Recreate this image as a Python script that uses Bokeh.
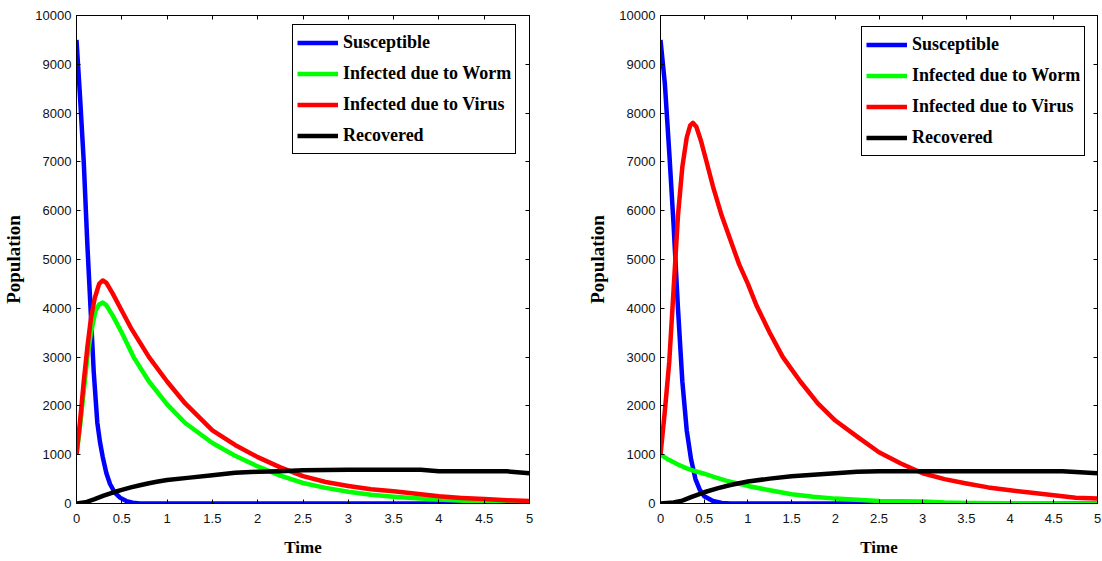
from bokeh.plotting import figure
from bokeh.layouts import row
from bokeh.models import Range1d, LinearAxis, FixedTicker, CustomJSTickFormatter
from bokeh.embed import file_html
from bokeh.resources import INLINE

# ---------------- data ----------------
x_ticks = [0, 0.5, 1, 1.5, 2, 2.5, 3, 3.5, 4, 4.5, 5]
x_tick_labels = ["0", "0.5", "1", "1.5", "2", "2.5", "3", "3.5", "4", "4.5", "5"]
y_ticks = [0, 1000, 2000, 3000, 4000, 5000, 6000, 7000, 8000, 9000, 10000]
series_names = ["Susceptible", "Infected due to Worm", "Infected due to Virus", "Recovered"]
series_colors = ["#0000ff", "#00ff00", "#ff0000", "#000000"]

# left panel
t_S_left = [0, 0.04, 0.08, 0.12, 0.155, 0.19, 0.23, 0.26, 0.29, 0.33, 0.37, 0.42, 0.48, 0.55, 0.62, 0.7, 1.0, 2, 3, 4, 5]
S_left = [9500, 8300, 7000, 5300, 4000, 2700, 1650, 1250, 950, 620, 400, 230, 120, 50, 15, 0, 0, 0, 0, 0, 0]
t_W_left = [0, 0.04, 0.08, 0.12, 0.16, 0.21, 0.25, 0.29, 0.33, 0.4, 0.5, 0.63, 0.8, 1.0, 1.2, 1.5,
            1.75, 2.0, 2.25, 2.5, 2.75, 3.0, 3.25, 3.5, 3.75, 4.0, 4.5, 5.0]
W_left = [1000, 1600, 2300, 3000, 3500, 3950, 4080, 4120, 4060, 3850, 3500, 3000, 2500, 2030, 1650, 1240,
          980, 760, 570, 420, 320, 240, 180, 140, 110, 80, 35, 5]
t_V_left = [0, 0.04, 0.08, 0.12, 0.16, 0.2, 0.25, 0.29, 0.33, 0.4, 0.5, 0.6, 0.8, 1.0, 1.2, 1.5, 1.75,
            2.0, 2.25, 2.5, 2.75, 3.0, 3.25, 3.5, 3.75, 4.0, 4.25, 4.5, 4.75, 5.0]
V_left = [1000, 1700, 2500, 3200, 3800, 4200, 4500, 4570, 4520, 4300, 3950, 3600, 3000, 2500, 2050, 1500, 1200,
          950, 740, 560, 440, 360, 290, 250, 200, 150, 115, 90, 65, 50]
t_R_left = [0, 0.1, 0.2, 0.3, 0.4, 0.5, 0.6, 0.7, 0.8, 0.9, 1.0, 1.25, 1.5, 1.75, 2.0, 2.25, 2.5, 3.0,
            3.5, 3.8, 4.0, 4.5, 4.75, 5.0]
R_left = [0, 25, 90, 160, 225, 280, 330, 375, 415, 450, 480, 530, 580, 630, 650, 660, 680, 690,
          690, 690, 660, 660, 660, 620]

# right panel
t_S_right = [0, 0.05, 0.1, 0.15, 0.2, 0.25, 0.3, 0.35, 0.4, 0.45, 0.5, 0.6, 0.7, 0.8, 5.0]
S_right = [9500, 8600, 7200, 5700, 4000, 2500, 1500, 900, 500, 280, 150, 50, 10, 0, 0]
t_W_right = [0, 0.1, 0.2, 0.3, 0.4, 0.5, 0.6, 0.75, 1.0, 1.25, 1.5, 1.75, 2.0, 2.25, 2.5, 3.0, 3.25,
             3.5, 4.0, 5.0]
W_right = [1000, 890, 800, 720, 660, 610, 550, 470, 360, 270, 190, 140, 100, 75, 50, 40, 20,
           10, 5, 0]
t_V_right = [0, 0.05, 0.1, 0.15, 0.2, 0.25, 0.3, 0.34, 0.37, 0.41, 0.46, 0.52, 0.6, 0.7, 0.8, 0.9, 1.0, 1.1, 1.25,
             1.4, 1.6, 1.8, 2.0, 2.25, 2.5, 2.75, 3.0, 3.25, 3.5, 3.75, 4.0, 4.25, 4.5, 4.75, 5.0]
V_right = [1000, 1900, 2900, 4400, 5900, 6900, 7500, 7750, 7800, 7720, 7450, 7050, 6500, 5900, 5400, 4900, 4500, 4050, 3500,
           3000, 2500, 2050, 1700, 1370, 1050, 820, 620, 500, 410, 330, 270, 220, 170, 120, 100]
t_R_right = [0, 0.15, 0.25, 0.35, 0.5, 0.65, 0.8, 1.0, 1.25, 1.5, 1.75, 2.0, 2.25, 2.5, 3.0, 4.0, 4.6,
             4.8, 5.0]
R_right = [0, 20, 60, 130, 230, 310, 380, 450, 510, 560, 590, 620, 650, 660, 660, 660, 660,
           640, 620]

SERIF = "Liberation Serif"
SANS = "Liberation Sans"


def style_axis(ax, show_labels):
    ax.axis_line_color = "black"
    ax.axis_line_width = 1
    ax.major_tick_in = 4
    ax.major_tick_out = 0
    ax.minor_tick_line_color = None
    ax.major_tick_line_color = "black"
    if show_labels:
        ax.major_label_text_font = SANS
        ax.major_label_text_font_size = "13px"
        ax.major_label_text_color = "#111111"
        ax.axis_label_text_color = "black"
        ax.axis_label_text_font = SERIF
        ax.axis_label_text_font_style = "bold"
    else:
        ax.formatter = CustomJSTickFormatter(code="return ''")
        ax.major_label_text_font_size = "1px"
        ax.major_label_standoff = 0


def make_panel(width, b_left, b_right, data, legend_xy):
    p = figure(width=width, height=561, x_range=Range1d(0, 5), y_range=Range1d(0, 10000),
               output_backend="svg", toolbar_location=None, title=None,
               min_border_left=b_left, min_border_right=b_right,
               min_border_top=15, min_border_bottom=58)
    p.xgrid.visible = False
    p.ygrid.visible = False
    p.outline_line_color = "black"
    p.outline_line_width = 1
    p.background_fill_color = "white"
    p.border_fill_color = "white"

    for (t, v), color, name in zip(data, series_colors, series_names):
        p.line(t, v, line_width=4.5, color=color, legend_label=name, line_join="round")

    xa = p.xaxis[0]
    xa.ticker = FixedTicker(ticks=x_ticks)
    xa.major_label_overrides = {(int(k) if k == int(k) else float(k)): lab for k, lab in zip(x_ticks, x_tick_labels)}
    style_axis(xa, True)
    xa.major_label_standoff = 10
    xa.axis_label = "Time"
    xa.axis_label_text_font_size = "17px"
    xa.axis_label_standoff = 12

    ya = p.yaxis[0]
    ya.ticker = FixedTicker(ticks=y_ticks)
    style_axis(ya, True)
    ya.major_label_standoff = 5
    ya.axis_label = "Population"
    ya.axis_label_text_font_size = "19px"
    ya.axis_label_standoff = 8

    top = LinearAxis(ticker=FixedTicker(ticks=x_ticks))
    style_axis(top, False)
    p.add_layout(top, "above")
    right = LinearAxis(ticker=FixedTicker(ticks=y_ticks))
    style_axis(right, False)
    p.add_layout(right, "right")

    lg = p.legend[0]
    lg.location = legend_xy
    lg.border_line_color = "black"
    lg.border_line_width = 1
    lg.border_line_alpha = 1
    lg.background_fill_color = "white"
    lg.background_fill_alpha = 1
    lg.label_text_font = SERIF
    lg.label_text_font_style = "bold"
    lg.label_text_font_size = "18px"
    lg.label_text_color = "black"
    lg.glyph_width = 41
    lg.glyph_height = 27
    lg.label_height = 27
    lg.label_standoff = 5
    lg.spacing = 4
    lg.padding = 4
    lg.margin = 0
    return p


left = make_panel(560, 76, 31,
                  [(t_S_left, S_left), (t_W_left, W_left), (t_V_left, V_left), (t_R_left, R_left)],
                  (216, 349))
right = make_panel(542, 100, 5,
                   [(t_S_right, S_right), (t_W_right, W_right), (t_V_right, V_right), (t_R_right, R_right)],
                   (201, 347))

layout = row(left, right)
open("out.html", "w").write(file_html(layout, INLINE))
